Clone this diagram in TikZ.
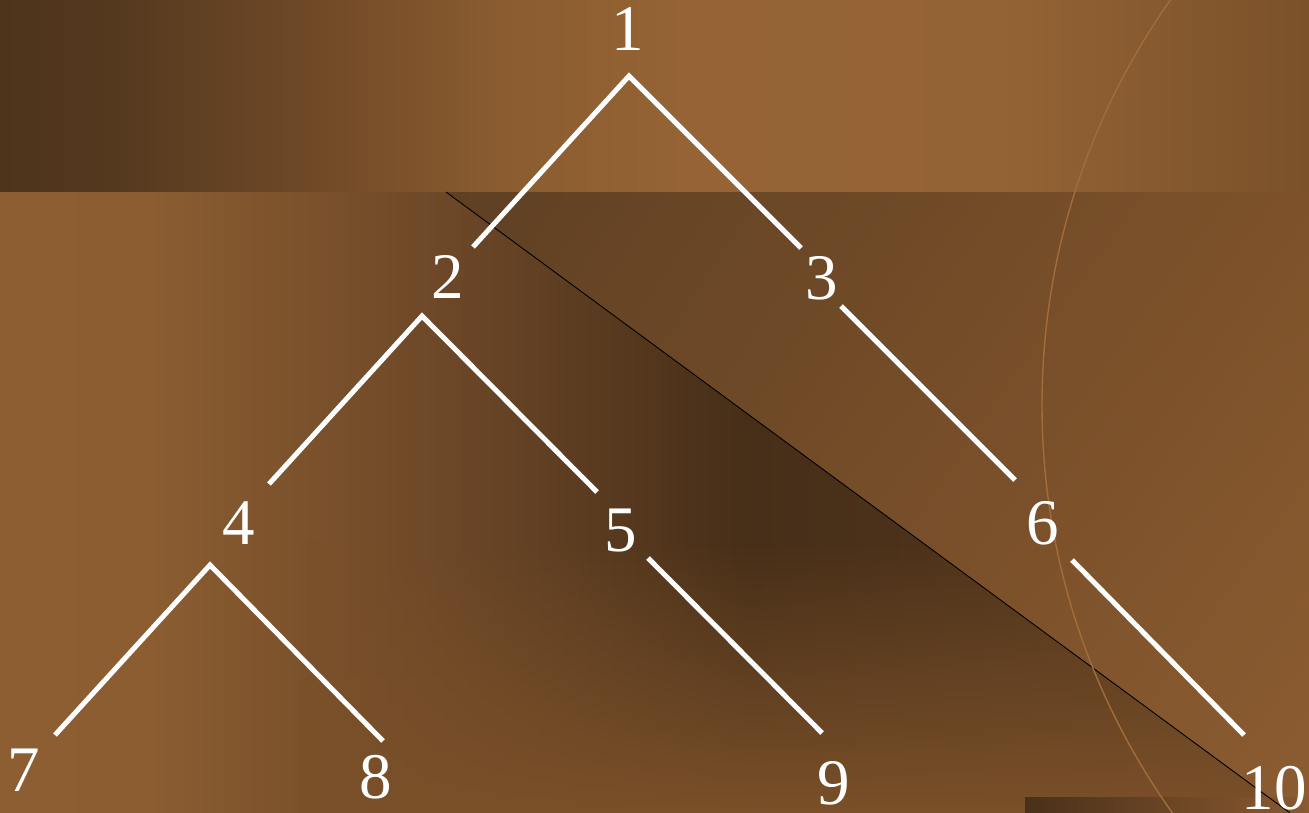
\documentclass[tikz,border=0pt]{standalone}
\usepackage{fontspec}
\setmainfont{Liberation Serif}
\usetikzlibrary{fadings,shadings}
\definecolor{tb0}{HTML}{4E341C}
\definecolor{tb1}{HTML}{53381E}
\definecolor{tb2}{HTML}{6E4826}
\definecolor{tb3}{HTML}{8A5C30}
\definecolor{tb4}{HTML}{966434}
\definecolor{tb5}{HTML}{946334}
\definecolor{tb6}{HTML}{7A512A}
\definecolor{lb0}{HTML}{8D5E32}
\definecolor{lb1}{HTML}{8B5D31}
\definecolor{lb2}{HTML}{6C4727}
\definecolor{lb3}{HTML}{462E18}
\definecolor{lb4}{HTML}{5A3B20}
\definecolor{bottomc}{HTML}{7A5029}
\definecolor{triUL}{HTML}{5F4023}
\definecolor{triUR}{HTML}{7D522A}
\definecolor{triLL}{HTML}{6E4826}
\definecolor{triLR}{HTML}{8C5C31}
\definecolor{rectL}{HTML}{4A301A}
\definecolor{rectR}{HTML}{8A5A30}
\definecolor{arcc}{HTML}{A36C3A}
\pgfdeclarehorizontalshading{topband}{100bp}{color(0bp)=(tb0); color(25bp)=(tb0); color(28.8bp)=(tb1); color(36.5bp)=(tb2); color(44.1bp)=(tb3); color(51.7bp)=(tb4); color(63.2bp)=(tb5); color(75bp)=(tb6); color(100bp)=(tb6)}
\pgfdeclarehorizontalshading{lowband}{100bp}{color(0bp)=(lb0); color(25bp)=(lb0); color(30.7bp)=(lb1); color(42.2bp)=(lb2); color(53.6bp)=(lb3); color(75bp)=(lb4); color(100bp)=(lb4)}
\tikzset{
  edge/.style={white, line width=5pt},
  num/.style={text=white, font=\fontsize{65}{65}\selectfont, inner sep=0pt, anchor=base},
  rim/.style={black, line width=0.9pt},
  ring/.style={arcc, line width=1.4pt}
}
\begin{document}
\begin{tikzpicture}[x=1pt,y=-1pt]
\useasboundingbox (0,0) rectangle (1309,813);
% background
\shade[shading=lowband] (0,192) rectangle (1309,813);
\fill[bottomc, path fading=north] (300,540) rectangle (1309,813);
\shade[upper left=triUL, upper right=triUR, lower left=triLL, lower right=triLR]
  (446,192) -- (1309,192) -- (1309,813) -- (1290,813) -- cycle;
\shade[shading=topband] (0,0) rectangle (1309,192);
\shade[left color=rectL, right color=rectR] (1025,797) rectangle (1309,813);
\coordinate (d1) at (446,192);
\coordinate (d2) at (1290,813);
\draw[rim] (d1) -- (d2);
\begin{scope}
\clip (0,0) rectangle (1309,813);
\coordinate (rc) at (1745,405);
\draw[ring] (rc) circle[radius=703];
\end{scope}
% nodes
\node[num] (n1) at (628,51) {1};
\node[num] (n2) at (448,298) {2};
\node[num] (n3) at (822,299) {3};
\node[num] (n4) at (239,544) {4};
\node[num] (n5) at (621,551) {5};
\node[num] (n6) at (1043,544) {6};
\node[num] (n7) at (24,791) {7};
\node[num] (n8) at (376,798) {8};
\node[num] (n9) at (834,804) {9};
\node[num] (n10) at (1274,809) {10};
% connector ends
\coordinate (a1) at (629,76);
\coordinate (e12) at (473,247);
\coordinate (e13) at (801,248);
\coordinate (a2) at (422,316);
\coordinate (e24) at (269,484);
\coordinate (e25) at (597,492);
\coordinate (s36) at (841,306);
\coordinate (e36) at (1015,480);
\coordinate (a4) at (210,565);
\coordinate (e47) at (55,735);
\coordinate (e48) at (383,741);
\coordinate (s59) at (648,558);
\coordinate (e59) at (822,733);
\coordinate (s610) at (1072,560);
\coordinate (e610) at (1244,735);
\draw[edge] (e12) -- (a1) -- (e13);
\draw[edge] (e24) -- (a2) -- (e25);
\draw[edge] (s36) -- (e36);
\draw[edge] (e47) -- (a4) -- (e48);
\draw[edge] (s59) -- (e59);
\draw[edge] (s610) -- (e610);
\end{tikzpicture}
\end{document}
